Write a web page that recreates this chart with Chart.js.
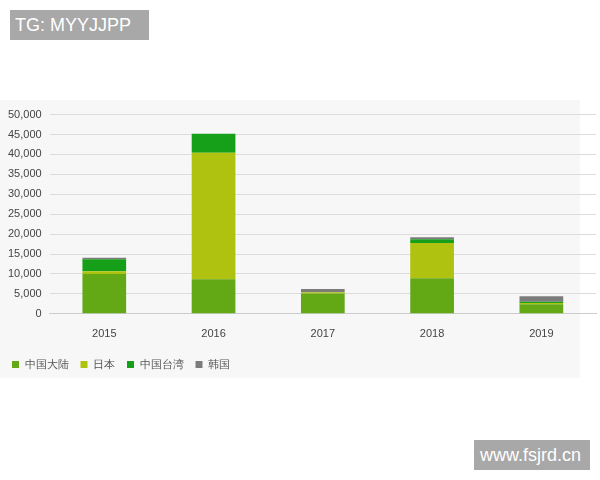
<!DOCTYPE html>
<html lang="zh">
<head>
<meta charset="UTF-8">
<title>chart</title>
<script src="https://cdnjs.cloudflare.com/ajax/libs/Chart.js/4.4.1/chart.umd.min.js"></script>
<style>
  body { margin: 0; width: 600px; height: 480px; background: #fff; position: relative; font-family: "Noto Sans", sans-serif; overflow: hidden; }
  #panel { position: absolute; left: 0; top: 100px; width: 580px; height: 278px; background: #f7f7f8; }
  #chart { position: absolute; left: 0; top: 100px; }
  #tag { position: absolute; left: 10px; top: 10px; width: 139px; height: 30px; background: #a8a8a8; color: #fff; font: 18px "Liberation Sans", sans-serif; line-height: 30px; padding-left: 5px; box-sizing: border-box; }
  #site { position: absolute; left: 474px; top: 440px; width: 116px; height: 30px; background: #a8a8a8; color: #fff; font: 18px "Liberation Sans", sans-serif; line-height: 30px; padding-left: 6px; box-sizing: border-box; }
</style>
</head>
<body>
<div id="panel"></div>
<canvas id="chart" width="600" height="280"></canvas>
<div id="tag">TG: MYYJJPP</div>
<div id="site">www.fsjrd.cn</div>
<script>
    const years = ['2015', '2016', '2017', '2018', '2019'];
    const mainland = [10000, 8700, 5100, 8900, 2400];
    const japan = [700, 31700, 300, 8900, 300];
    const taiwan = [3000, 4800, 0, 900, 300];
    const korea = [400, 0, 800, 500, 1400];
    const names = ['中国大陆', '日本', '中国台湾', '韩国'];
    const colors = ['#62a915', '#afc20f', '#16a01a', '#7c7c7c'];

    const seriesData = [mainland, japan, taiwan, korea];
    new Chart('chart', {
        type: 'bar',
        data: {
            labels: years,
            datasets: seriesData.map((d, i) => ({
                label: names[i],
                data: d,
                backgroundColor: colors[i],
                barPercentage: 0.4,
                categoryPercentage: 1
            }))
        },
        options: {
            responsive: false,
            animation: false,
            layout: { padding: { top: 6, right: 4, bottom: 0 } },
            plugins: {
                legend: {
                    position: 'bottom',
                    align: 'start',
                    labels: { boxWidth: 7, boxHeight: 7, color: '#555', font: { size: 11 }, padding: 12 }
                },
                tooltip: { enabled: false }
            },
            scales: {
                x: {
                    stacked: true,
                    grid: { display: false },
                    border: { color: '#ccc' },
                    ticks: { color: '#444', font: { size: 11 }, padding: 6 }
                },
                y: {
                    stacked: true,
                    min: 0, max: 50000,
                    ticks: { stepSize: 5000, color: '#444', font: { size: 11 }, padding: 8 },
                    grid: { color: '#dcdcdc', drawTicks: false },
                    border: { display: false }
                }
            }
        }
    });
</script>
</body>
</html>
